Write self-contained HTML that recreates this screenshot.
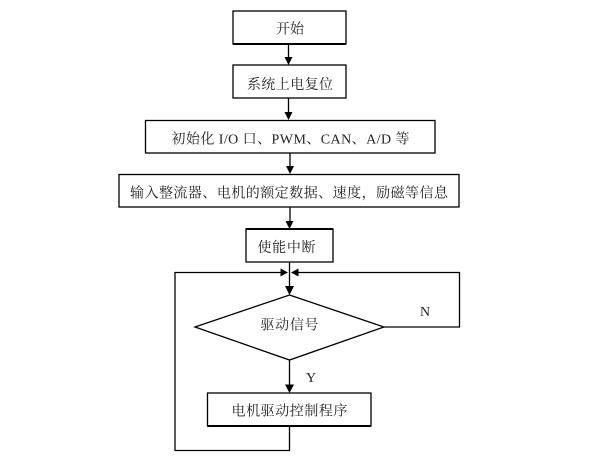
<!DOCTYPE html>
<html lang="zh">
<head>
<meta charset="utf-8">
<style>
html,body{margin:0;padding:0;background:#fff;width:606px;height:465px;overflow:hidden}
svg{display:block;filter:blur(0.3px)}
text{font-family:"Liberation Serif","Noto Serif CJK SC",serif;font-size:14px;fill:#222;text-anchor:middle}
.b{fill:#fff;stroke:#000;stroke-width:1.3}
.l{fill:none;stroke:#000;stroke-width:1.3}
.t{fill:none;stroke:#000;stroke-width:2}
.a{fill:#000;stroke:none}
</style>
</head>
<body>
<svg width="606" height="465" viewBox="0 0 606 465" xmlns="http://www.w3.org/2000/svg">
<!-- connectors -->
<path class="l" d="M288.500 44V60M288.500 98V114M290 153V168M290 207V224M289.500 262V290M289.500 360V388"/>
<polygon class="a" points="284.500,57 292.500,57 288.500,65"/>
<polygon class="a" points="284.500,112 292.500,112 288.500,120"/>
<polygon class="a" points="286,166 294,166 290,174"/>
<polygon class="a" points="285.500,221 293.500,221 289.500,229"/>
<polygon class="a" points="285,286 294,286 289.500,295"/>
<polygon class="a" points="285,384.500 294,384.500 289.500,393"/>
<!-- return loops -->
<path class="l" d="M289.500 426V450.500H175V272.500H282"/>
<polygon class="a" points="280.500,268.500 288,272.500 280.500,276.500"/>
<path class="l" d="M384 327H459.500V272.500H296"/>
<polygon class="a" points="298.500,268.500 291,272.500 298.500,276.500"/>
<!-- boxes -->
<rect class="b" x="233" y="11" width="113" height="33"/>
<rect class="b" x="233" y="65" width="113" height="33"/>
<rect class="b" x="145.500" y="120.500" width="289.500" height="32.500"/>
<rect class="b" x="119" y="174.500" width="340" height="32.500"/>
<rect class="b" x="246" y="229" width="87" height="33"/>
<polygon class="b" points="289.500,295 384,327 289.500,360 195,327"/>
<rect class="b" x="207.500" y="393" width="163.500" height="33"/>
<path class="t" d="M233 44H346M246 229H333M207.500 426H371"/>
<!-- labels -->
<text x="290" y="33.500" textLength="28" lengthAdjust="spacingAndGlyphs">开始</text>
<text x="290" y="89" textLength="86" lengthAdjust="spacing">系统上电复位</text>
<text x="290.500" y="143.500" textLength="238" lengthAdjust="spacing">初始化 I/O 口、PWM、CAN、A/D 等</text>
<text x="289" y="197.500" textLength="318" lengthAdjust="spacing">输入整流器、电机的额定数据、速度，励磁等信息</text>
<text x="286.500" y="252" textLength="58" lengthAdjust="spacing">使能中断</text>
<text x="289.500" y="329.500" textLength="58" lengthAdjust="spacing">驱动信号</text>
<text x="289.500" y="415.500" textLength="116" lengthAdjust="spacing">电机驱动控制程序</text>
<text x="425" y="316">N</text>
<text x="311" y="382">Y</text>
</svg>
</body>
</html>
